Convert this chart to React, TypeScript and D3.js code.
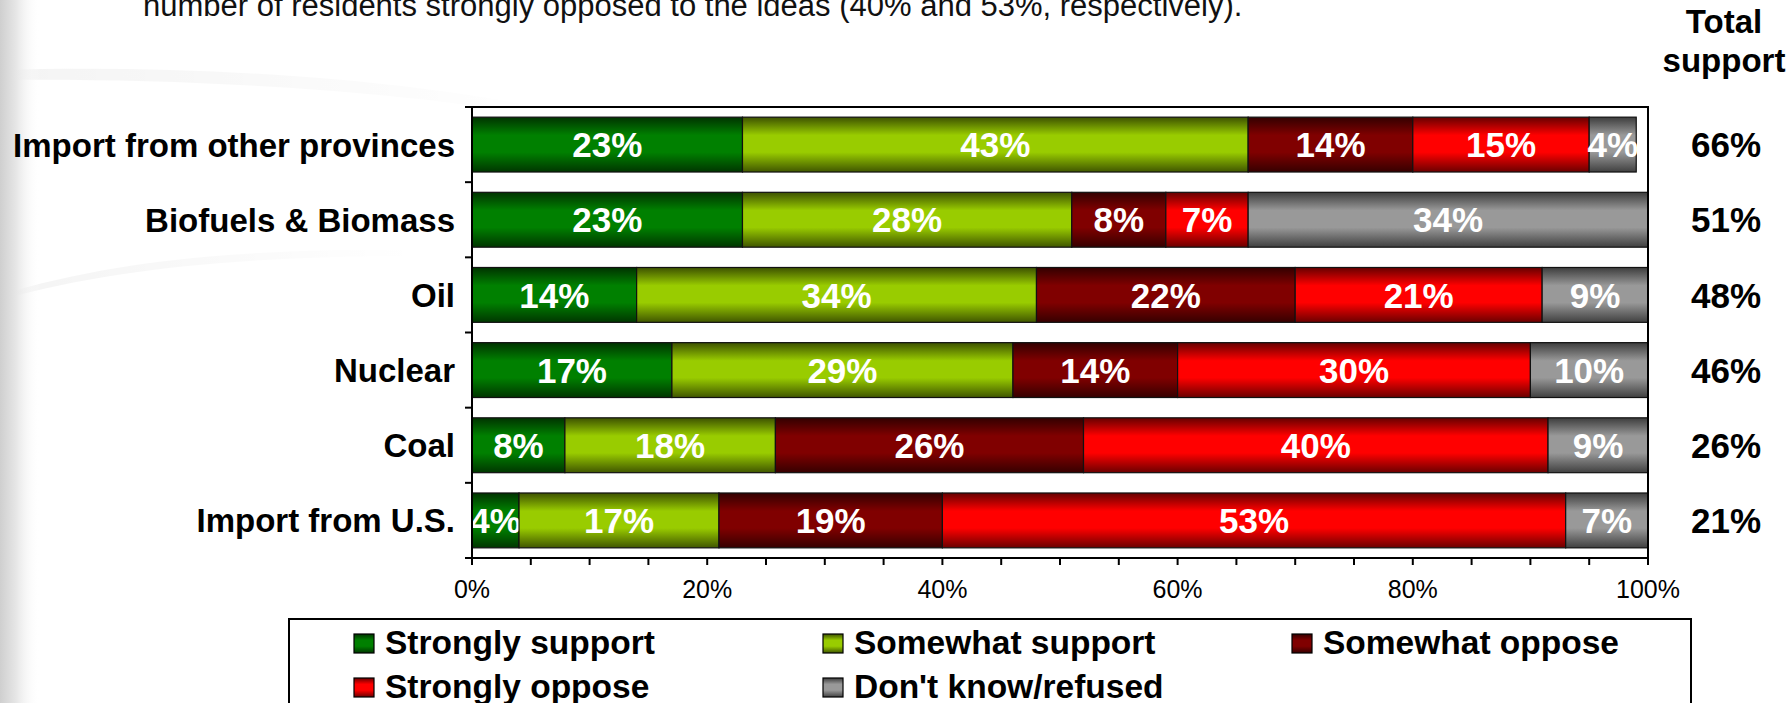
import React from "react";
import * as d3 from "d3";

const categories = [
  "Import from other provinces",
  "Biofuels & Biomass",
  "Oil",
  "Nuclear",
  "Coal",
  "Import from U.S.",
];
const seriesNames = [
  "Strongly support",
  "Somewhat support",
  "Somewhat oppose",
  "Strongly oppose",
  "Don't know/refused",
];
const stronglySupport = [23, 23, 14, 17, 7.9, 4];
const somewhatSupport = [43, 28, 34, 29, 17.9, 17];
const somewhatOppose = [14, 8, 22, 14, 26.2, 19];
const stronglyOppose = [15, 7, 21, 30, 39.5, 53];
const dontKnow = [4, 34, 9, 10, 8.5, 7];
const totalSupport = [66, 51, 48, 46, 26, 21];
const tickValues = [0, 20, 40, 60, 80, 100];
const tickLabels = ["0%", "20%", "40%", "60%", "80%", "100%"];
const seriesColors = ["#008000", "#99cc00", "#800000", "#ff0000", "#999999"];
const headline =
  "number of residents strongly opposed to the ideas (40% and 53%, respectively).";

const W = 1792;
const H = 703;
const FONT = "'Liberation Sans', Arial, Helvetica, sans-serif";

export default function App() {
  const left = 472;
  const right = 1648;
  const top = 107;
  const bottom = 558;

  const x = d3.scaleLinear().domain([0, 100]).range([left, right]);
  const y = d3
    .scaleBand<string>()
    .domain(categories)
    .range([top, bottom])
    .paddingInner(0.27)
    .paddingOuter(0.135);

  const seriesValues = [
    stronglySupport,
    somewhatSupport,
    somewhatOppose,
    stronglyOppose,
    dontKnow,
  ];
  const table = categories.map((c, i) => {
    const row: any = { category: c };
    seriesNames.forEach((s, j) => (row[s] = seriesValues[j][i]));
    return row;
  });
  const stack = d3.stack<any>().keys(seriesNames)(table);

  const dark = (c: string, k: number) => {
    const col = d3.rgb(c);
    return d3.rgb(col.r * k, col.g * k, col.b * k).formatHex();
  };

  const boundaries = [
    top,
    ...categories.map(
      (c) => (y(c) as number) + y.bandwidth() + (y.step() - y.bandwidth()) / 2
    ),
  ];
  const minorTicks = d3.range(0, 101, 5);

  const legendCols = [385, 854, 1323];
  const legendRows = [654, 698];
  const valFont = 35;

  return (
    <svg
      width={W}
      height={H}
      style={{ position: "fixed", left: 0, top: 0, background: "#ffffff" }}
      fontFamily={FONT}
    >
      <defs>
        <linearGradient id="leftStrip" x1="0" y1="0" x2="1" y2="0">
          <stop offset="0" stopColor="#cfcfcf" />
          <stop offset="0.4" stopColor="#e6e6e6" />
          <stop offset="1" stopColor="#ffffff" stopOpacity="0" />
        </linearGradient>
        <linearGradient id="swoosh" x1="0" y1="0" x2="1" y2="0">
          <stop offset="0" stopColor="#000" stopOpacity="0.045" />
          <stop offset="1" stopColor="#000" stopOpacity="0" />
        </linearGradient>
        {seriesColors.map((c, i) => (
          <linearGradient key={i} id={`g${i}`} x1="0" y1="0" x2="0" y2="1">
            <stop offset="0" stopColor={dark(c, 0.4)} />
            <stop offset="0.33" stopColor={c} />
            <stop offset="0.64" stopColor={c} />
            <stop offset="1" stopColor={dark(c, 0.42)} />
          </linearGradient>
        ))}
      </defs>

      {/* background decoration */}
      <rect x={0} y={0} width={W} height={H} fill="#ffffff" />
      <path d="M0,70 C200,64 420,80 560,112 L560,120 C420,92 200,78 0,80 Z" fill="url(#swoosh)" />
      <path d="M0,295 C120,258 260,248 420,250 L420,256 C260,256 120,266 0,300 Z" fill="url(#swoosh)" />
      <rect x={0} y={0} width={40} height={H} fill="url(#leftStrip)" />

      {/* headline (cut off at top) */}
      <text x={143} y={16} fontSize={31} fill="#111">
        {headline}
      </text>

      {/* Total support header */}
      <text x={1724} y={33} fontSize={33} fontWeight="bold" textAnchor="middle">
        Total
      </text>
      <text x={1724} y={72} fontSize={33} fontWeight="bold" textAnchor="middle">
        support
      </text>

      {/* plot frame background */}
      <rect x={left} y={top} width={right - left} height={bottom - top} fill="#ffffff" fillOpacity={0.85} />

      {/* bars */}
      {stack.map((layer, si) =>
        layer.map((d, ci) => {
          const x0 = x(d[0]);
          const x1 = x(d[1]);
          const yy = y(categories[ci]) as number;
          const v = d[1] - d[0];
          return (
            <g key={`${si}-${ci}`}>
              <rect
                x={x0}
                y={yy}
                width={x1 - x0}
                height={y.bandwidth()}
                fill={`url(#g${si})`}
                stroke="#111"
                strokeWidth={1.2}
              />
              <text
                x={(x0 + x1) / 2}
                y={yy + y.bandwidth() / 2 + valFont * 0.36}
                fontSize={valFont}
                fontWeight="bold"
                fill="#ffffff"
                textAnchor="middle"
              >
                {Math.round(v)}%
              </text>
            </g>
          );
        })
      )}

      {/* frame */}
      <rect x={left} y={top} width={right - left} height={bottom - top} fill="none" stroke="#000" strokeWidth={2} />

      {/* y ticks */}
      {boundaries.map((b, i) => (
        <line key={i} x1={left - 7} x2={left} y1={b} y2={b} stroke="#000" strokeWidth={2} />
      ))}
      {/* x ticks */}
      {minorTicks.map((t) => (
        <line key={t} x1={x(t)} x2={x(t)} y1={bottom} y2={bottom + 7} stroke="#000" strokeWidth={2} />
      ))}
      {tickValues.map((t, i) => (
        <text key={t} x={x(t)} y={598} fontSize={25} textAnchor="middle" fill="#000">
          {tickLabels[i]}
        </text>
      ))}

      {/* category labels */}
      {categories.map((c) => (
        <text
          key={c}
          x={455}
          y={(y(c) as number) + y.bandwidth() / 2 + 12}
          fontSize={33}
          fontWeight="bold"
          textAnchor="end"
          fill="#000"
        >
          {c}
        </text>
      ))}

      {/* total support values */}
      {categories.map((c, i) => (
        <text
          key={c}
          x={1726}
          y={(y(c) as number) + y.bandwidth() / 2 + valFont * 0.36}
          fontSize={valFont}
          fontWeight="bold"
          textAnchor="middle"
          fill="#000"
        >
          {totalSupport[i]}%
        </text>
      ))}

      {/* legend */}
      <rect x={289} y={619} width={1402} height={120} fill="#ffffff" stroke="#000" strokeWidth={2} />
      {seriesNames.map((s, i) => {
        const col = i % 3;
        const row = Math.floor(i / 3);
        const tx = legendCols[col];
        const ty = legendRows[row];
        return (
          <g key={s}>
            <rect
              x={tx - 31}
              y={ty - 20}
              width={20}
              height={19}
              fill={`url(#g${i})`}
              stroke="#000"
              strokeWidth={1.2}
            />
            <text x={tx} y={ty} fontSize={33.5} fontWeight="bold" fill="#000">
              {s}
            </text>
          </g>
        );
      })}
    </svg>
  );
}
